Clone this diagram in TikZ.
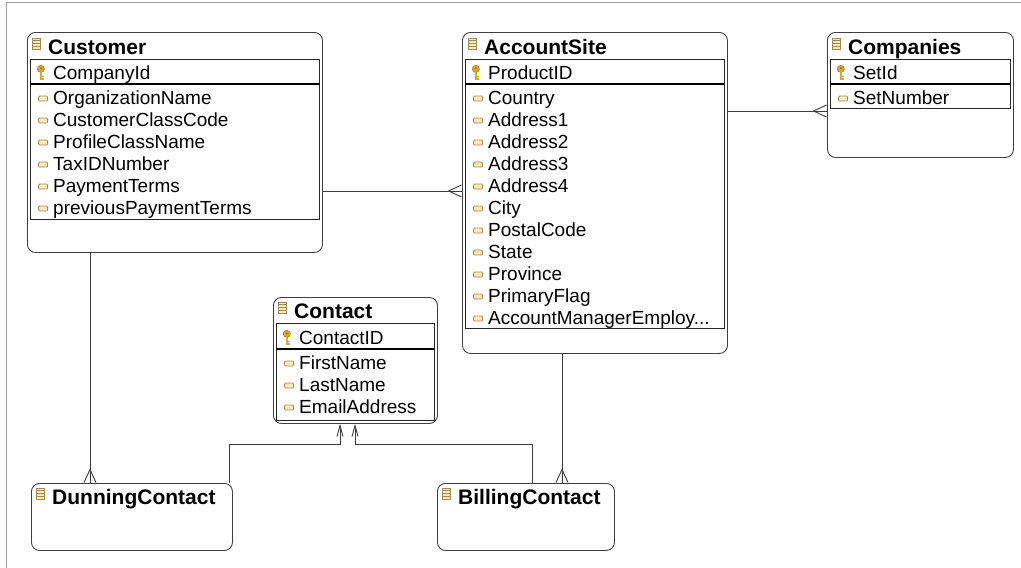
\documentclass[tikz,border=0pt]{standalone}
\usepackage{fontspec}
\setmainfont{Liberation Sans}
\usepackage{tikz}
\usetikzlibrary{arrows.meta, positioning}

\definecolor{keygold}{HTML}{DDA62A}
\definecolor{keyedge}{HTML}{9A6E10}
\definecolor{fieldfill}{HTML}{F4EBB8}
\definecolor{fieldedge}{HTML}{A48A52}
\definecolor{framegray}{HTML}{A0A0A0}
\definecolor{wire}{HTML}{3C3C3C}

\begin{document}
\begin{tikzpicture}[x=1pt, y=-1pt,
  entity/.style={draw=black!75, rounded corners=8pt, anchor=north west, inner sep=0, line width=0.9pt},
  inner/.style={draw=black!85, line width=0.9pt},
  tblicon/.style={draw=fieldedge, fill=fieldfill, minimum width=8pt, minimum height=11pt, inner sep=0, line width=0.8pt,
    xshift=-7pt, yshift=5.5pt,
    path picture={
      \foreach \h in {-2.75,0,2.75}
        \draw[fieldedge, line width=0.8pt] ([yshift=\h pt]path picture bounding box.west) -- ([yshift=\h pt]path picture bounding box.east);
    }},
  keyicon/.style={minimum width=8pt, minimum height=15pt, inner sep=0, xshift=-8pt, yshift=1.5pt,
    path picture={
      \fill[keygold, draw=keyedge, line width=0.4pt] ([yshift=3.6pt]path picture bounding box.center) circle (3.6pt);
      \fill[keyedge] ([yshift=4.3pt]path picture bounding box.center) circle (1pt);
      \fill[keygold] ([xshift=-1.1pt, yshift=1pt]path picture bounding box.center) rectangle ([xshift=1.1pt, yshift=-7.5pt]path picture bounding box.center);
      \fill[keygold] ([xshift=1pt, yshift=-3pt]path picture bounding box.center) rectangle ([xshift=2.8pt, yshift=-4.5pt]path picture bounding box.center);
      \fill[keygold] ([xshift=1pt, yshift=-5.8pt]path picture bounding box.center) rectangle ([xshift=2.8pt, yshift=-7.3pt]path picture bounding box.center);
    }},
  fieldicon/.style={draw=fieldedge, fill=fieldfill, rounded corners=1pt, minimum width=9pt, minimum height=5pt,
    inner sep=0, line width=0.8pt, xshift=-5pt, yshift=0.5pt},
  tabletitle/.style={anchor=base west, inner sep=0, font=\bfseries\fontsize{21}{24}\selectfont,
    text height=15pt, text depth=5pt, label={[tblicon]left:{}}},
  cell/.style={anchor=base west, inner sep=0, font=\fontsize{19}{22}\selectfont, text height=14pt, text depth=4pt},
  pkey/.style={cell, label={[keyicon]left:{}}},
  field/.style={cell, label={[fieldicon]left:{}}},
  rel/.style={draw=wire, line width=0.9pt},
  crow/.style={postaction={draw=wire, line width=0.9pt, -{Straight Barb[reversed, length=13pt, width=12pt]}}},
  towards/.style={-{Straight Barb[length=11pt, width=6pt]}}
]

\useasboundingbox (0,0) rectangle (1021,568);

% frame of the canvas
\draw[framegray, line width=1pt] (6,568) -- (6,2.5) -- (1021,2.5);

% Customer
\node[entity, minimum width=295pt, minimum height=220pt] (cust) at (27,32) {};
\draw[inner] (30,59.5) rectangle (319,219);
\draw[line width=1.8pt] (30,84) -- (319,84);
\node[tabletitle] (custT) at (48,54) {Customer};
\node[pkey] (custK) at (53,79) {CompanyId};
\node[field] (cust1) at (53,104) {OrganizationName};
\node[field] (cust2) at (53,126) {CustomerClassCode};
\node[field] (cust3) at (53,148) {ProfileClassName};
\node[field] (cust4) at (53,170) {TaxIDNumber};
\node[field] (cust5) at (53,192) {PaymentTerms};
\node[field] (cust6) at (53,214) {previousPaymentTerms};

% AccountSite
\node[entity, minimum width=265pt, minimum height=321pt] (site) at (462,32) {};
\draw[inner] (465,59.5) rectangle (724,328);
\draw[line width=1.8pt] (465,84) -- (724,84);
\node[tabletitle] (siteT) at (484,54) {AccountSite};
\node[pkey] (siteK) at (488,79) {ProductID};
\node[field] (site1) at (488,104) {Country};
\node[field] (site2) at (488,126) {Address1};
\node[field] (site3) at (488,148) {Address2};
\node[field] (site4) at (488,170) {Address3};
\node[field] (site5) at (488,192) {Address4};
\node[field] (site6) at (488,214) {City};
\node[field] (site7) at (488,236) {PostalCode};
\node[field] (site8) at (488,258) {State};
\node[field] (site9) at (488,280) {Province};
\node[field] (site10) at (488,302) {PrimaryFlag};
\node[field] (site11) at (488,324) {AccountManagerEmploy...};

% Companies
\node[entity, minimum width=186pt, minimum height=125pt] (comp) at (827,32) {};
\draw[inner] (830,59.5) rectangle (1010,108);
\draw[line width=1.8pt] (830,84) -- (1010,84);
\node[tabletitle] (compT) at (848,54) {Companies};
\node[pkey] (compK) at (853,79) {SetId};
\node[field] (comp1) at (853,104) {SetNumber};

% Contact
\node[entity, minimum width=164pt, minimum height=126pt] (cont) at (273,297) {};
\draw[inner] (276,323.5) rectangle (434,420);
\draw[line width=1.8pt] (276,349) -- (434,349);
\node[tabletitle] (contT) at (294,318) {Contact};
\node[pkey] (contK) at (299,344) {ContactID};
\node[field] (cont1) at (299,369) {FirstName};
\node[field] (cont2) at (299,391) {LastName};
\node[field] (cont3) at (299,413) {EmailAddress};

% DunningContact and BillingContact
\node[entity, minimum width=201pt, minimum height=67pt] (dun) at (31,483) {};
\node[tabletitle] (dunT) at (52,504) {DunningContact};
\node[entity, minimum width=177pt, minimum height=67pt] (bill) at (437,483) {};
\node[tabletitle] (billT) at (458,504) {BillingContact};

% relations
\draw[rel, crow] (cust.east |- 0,191) -- (site.west |- 0,191);
\draw[rel, crow] (site.east |- 0,111) -- (comp.west |- 0,111);
\draw[rel, crow] (cust.south -| 90,0) -- (dun.north -| 90,0);
\draw[rel, crow] (site.south -| 562,0) -- (bill.north -| 562,0);
\draw[rel, towards] (dun.north -| 229,0) -- ++(0,-39) -| (cont.south -| 340,0);
\draw[rel, towards] (bill.north -| 532,0) -- ++(0,-39) -| (cont.south -| 355,0);

\end{tikzpicture}
\end{document}
